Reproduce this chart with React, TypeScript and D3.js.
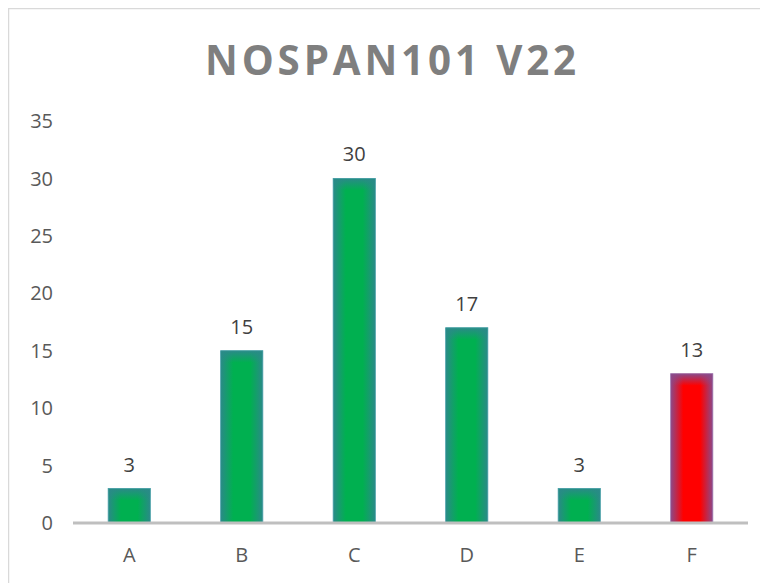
import React from "react";
import * as d3 from "d3";

const categories = ["A", "B", "C", "D", "E", "F"];
const values = [3, 15, 30, 17, 3, 13];
const highlight = [false, false, false, false, false, true];
const yTicks = [0, 5, 10, 15, 20, 25, 30, 35];
const title = "NOSPAN101 V22";

export default function App() {
  const W = 760;
  const H = 575;
  const x0 = 65, x1 = 740, yTop = 113, yBottom = 515;
  const x = d3.scaleBand<string>().domain(categories).range([x0, x1]).padding(0);
  const y = d3.scaleLinear().domain([0, 35]).range([yBottom, yTop]);
  const bw = x.bandwidth() * 0.375;

  return (
    <svg width={W} height={H} style={{ display: "block", fontFamily: "'Open Sans', sans-serif" }}>
      <defs>
        <linearGradient id="gH" x1="0" x2="1" y1="0" y2="0">
          <stop offset="0%" stopColor="#2a8a88" />
          <stop offset="30%" stopColor="#00b050" />
          <stop offset="70%" stopColor="#00b050" />
          <stop offset="100%" stopColor="#2a8a88" />
        </linearGradient>
        <linearGradient id="rH" x1="0" x2="1" y1="0" y2="0">
          <stop offset="0%" stopColor="#8a4a8a" />
          <stop offset="30%" stopColor="#ff0000" />
          <stop offset="70%" stopColor="#ff0000" />
          <stop offset="100%" stopColor="#8a4a8a" />
        </linearGradient>
        <linearGradient id="gV" x1="0" x2="0" y1="0" y2="1">
          <stop offset="0%" stopColor="#2a8a88" stopOpacity="1" />
          <stop offset="100%" stopColor="#2a8a88" stopOpacity="0" />
        </linearGradient>
        <linearGradient id="rV" x1="0" x2="0" y1="0" y2="1">
          <stop offset="0%" stopColor="#8a4a8a" stopOpacity="1" />
          <stop offset="100%" stopColor="#8a4a8a" stopOpacity="0" />
        </linearGradient>
      </defs>
      <rect x={0.5} y={0.5} width={W + 20} height={H + 20} fill="#fff" stroke="#d9d9d9" strokeWidth={1.5} />
      <text
        x={197}
        y={67}
        fontSize={42}
        fontWeight={700}
        fill="#7f7f7f"
        letterSpacing={4}
        textLength={375}
        lengthAdjust="spacingAndGlyphs"
      >
        {title}
      </text>
      {yTicks.map((t) => (
        <text key={t} x={45} y={y(t)} dy="0.36em" textAnchor="end" fontSize={20} fill="#595959">
          {t}
        </text>
      ))}
      {categories.map((c, i) => {
        const cx = (x(c) as number) + x.bandwidth() / 2;
        const top = y(values[i]);
        const h = yBottom - top;
        const hi = highlight[i];
        const vh = Math.min(12, h / 2);
        return (
          <g key={c}>
            <rect x={cx - bw / 2} y={top} width={bw} height={h} fill={hi ? "url(#rH)" : "url(#gH)"} />
            <rect x={cx - bw / 2} y={top} width={bw} height={vh} fill={hi ? "url(#rV)" : "url(#gV)"} />
            <rect x={cx - bw / 2} y={top} width={bw} height={h} fill="none" stroke={hi ? "#a07ab0" : "#4aa0a8"} strokeWidth={0.8} />
            <text x={cx} y={top - 17} textAnchor="middle" fontSize={20} fill="#404040">
              {values[i]}
            </text>
            <text x={cx} y={yBottom + 39} textAnchor="middle" fontSize={20} fill="#595959">
              {c}
            </text>
          </g>
        );
      })}
      <line x1={x0} x2={x1} y1={yBottom} y2={yBottom} stroke="#bfbfbf" strokeWidth={3} />
    </svg>
  );
}
